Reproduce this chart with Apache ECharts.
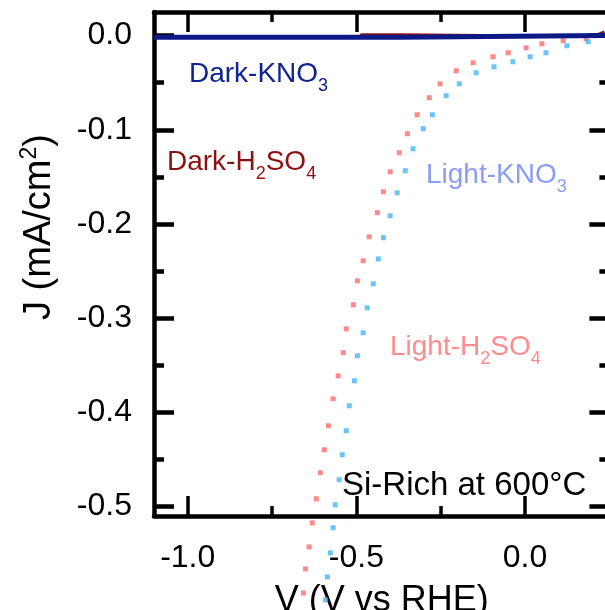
<!DOCTYPE html>
<html>
<head>
<meta charset="utf-8">
<script src="https://cdn.jsdelivr.net/npm/echarts@6/dist/echarts.min.js"></script>
<style>
  html, body { margin: 0; padding: 0; background: #ffffff; }
  #chart { width: 605px; height: 610px; }
</style>
</head>
<body>
<div id="chart"></div>
<script>
// Current density J (mA/cm²) against potential V (V vs RHE), Si-rich film annealed at 600 °C

// Illuminated sweep in H2SO4
const lightH2SO4V = [0.181, 0.113, 0.050, 0.003, -0.050, -0.095, -0.154, -0.204, -0.252, -0.284,
  -0.320, -0.349, -0.373, -0.400, -0.420, -0.438, -0.462, -0.480, -0.497, -0.509,
  -0.530, -0.539, -0.554, -0.569, -0.583, -0.595, -0.607, -0.619, -0.631, -0.640, -0.651, -0.657];
const lightH2SO4J = [-0.0034, -0.0055, -0.0087, -0.0130, -0.0183, -0.0225, -0.0289, -0.0374, -0.0512, -0.0660,
  -0.0841, -0.1042, -0.1244, -0.1446, -0.1658, -0.1881, -0.2136, -0.2391, -0.2603, -0.2858,
  -0.3113, -0.3367, -0.3612, -0.3856, -0.4142, -0.4397, -0.4641, -0.4918, -0.5173, -0.5428, -0.5662, -0.5917];

// Illuminated sweep in KNO3
const lightKNO3V = [0.187, 0.124, 0.062, 0.015, -0.036, -0.092, -0.145, -0.195, -0.234, -0.275,
  -0.302, -0.332, -0.355, -0.379, -0.400, -0.420, -0.435, -0.450, -0.468, -0.480,
  -0.497, -0.506, -0.521, -0.530, -0.542, -0.551, -0.563, -0.569, -0.577, -0.586, -0.592];
const lightKNO3J = [-0.0066, -0.0108, -0.0183, -0.0225, -0.0278, -0.0332, -0.0395, -0.0512, -0.0639, -0.0841,
  -0.0989, -0.1202, -0.1435, -0.1669, -0.1913, -0.2146, -0.2371, -0.2635, -0.2890, -0.3155,
  -0.3399, -0.3665, -0.3930, -0.4195, -0.4450, -0.4715, -0.4981, -0.5225, -0.5491, -0.5746, -0.5990];

// Dark sweeps (flat, near zero)
const darkKNO3V = [-1.1, -0.37, -0.365, 0.25];
const darkKNO3J = [-0.0018, -0.0018, 0.0, 0.0];
const darkH2SO4V = [-1.1, -0.49, -0.485, -0.37, -0.365, 0.2, 0.235];
const darkH2SO4J = [-0.0015, -0.0015, 0.0012, 0.0012, -0.0008, -0.0008, 0.004];

// Axis ranges and tick values
const xRange = [-1.1, 0.25];
const yRange = [-0.51, 0.025];
const xMajorTicks = [-1.0, -0.5, 0.0];
const xMinorTicks = [-0.75, -0.25];
const yMajorTicks = [0.0, -0.1, -0.2, -0.3, -0.4, -0.5];
const yMinorTicks = [-0.05, -0.15, -0.25, -0.35, -0.45];

const FONT = "'Liberation Sans', Arial, Helvetica, sans-serif";
const pairs = (xs, ys) => xs.map((x, i) => [x, ys[i]]);
const fmt = v => Number(v).toFixed(1);

const gridRect = { left: 154, top: 12, width: 455.4, height: 504, outerBoundsMode: 'none' };
const axisLineStyle = { show: true, onZero: false, lineStyle: { color: '#000', width: 4.5 } };
const noLine = { show: false, onZero: false };

function xAxisDef(gridIndex, position, ticks, len, showLine, withLabels) {
  return {
    type: 'value', gridIndex, position, min: xRange[0], max: xRange[1],
    axisLine: showLine ? axisLineStyle : noLine,
    axisTick: { show: true, inside: true, length: len, customValues: ticks,
      lineStyle: { color: '#000', width: 3.5 } },
    axisLabel: withLabels
      ? { show: true, customValues: ticks, formatter: fmt, fontSize: 32, fontFamily: FONT,
          color: '#000', margin: 26 }
      : { show: false },
    splitLine: { show: false }
  };
}
function yAxisDef(gridIndex, position, ticks, len, showLine, withLabels) {
  return {
    type: 'value', gridIndex, position, min: yRange[0], max: yRange[1],
    axisLine: showLine ? axisLineStyle : noLine,
    axisTick: { show: true, inside: true, length: len, customValues: ticks,
      lineStyle: { color: '#000', width: 4.5 } },
    axisLabel: withLabels
      ? { show: true, customValues: ticks, formatter: fmt, fontSize: 32, fontFamily: FONT,
          color: '#000', margin: 22 }
      : { show: false },
    splitLine: { show: false }
  };
}

// Text with subscripts: parts alternate between normal ('m') and lowered small ('s') runs
function subLabel(parts, color, size, left, top) {
  const subSize = Math.round(size * 0.63);
  const text = parts.map(p => '{' + p[0] + '|' + p[1] + '}').join('');
  return {
    type: 'text', left, top, silent: true,
    style: {
      text,
      rich: {
        m: { fontSize: size, fontFamily: FONT, fill: color, lineHeight: size, verticalAlign: 'top' },
        s: { fontSize: subSize, fontFamily: FONT, fill: color, lineHeight: size + 7, verticalAlign: 'bottom' }
      }
    }
  };
}

const chart = echarts.init(document.getElementById('chart'), null, { renderer: 'canvas' });

const xAxes = [
  xAxisDef(0, 'bottom', xMajorTicks, 20, true, true),
  xAxisDef(1, 'top', xMajorTicks, 20, true, false),
  xAxisDef(2, 'bottom', xMinorTicks, 10, false, false),
  xAxisDef(3, 'top', xMinorTicks, 10, false, false)
];
xAxes[0].name = 'V (V vs RHE)';
xAxes[0].nameLocation = 'middle';
xAxes[0].nameGap = 67;
xAxes[0].nameTextStyle = { fontSize: 36, fontFamily: FONT, color: '#000' };

const yAxes = [
  yAxisDef(0, 'left', yMajorTicks, 20, true, true),
  yAxisDef(1, 'right', yMajorTicks, 20, true, false),
  yAxisDef(2, 'left', yMinorTicks, 10, false, false),
  yAxisDef(3, 'right', yMinorTicks, 10, false, false)
];
yAxes[0].name = 'J (mA/cm{sup|2})';
yAxes[0].nameLocation = 'middle';
yAxes[0].nameRotate = 90;
yAxes[0].nameGap = 93;
yAxes[0].nameTextStyle = {
  fontSize: 38, fontFamily: FONT, color: '#000', lineHeight: 43,
  padding: [0, 0, 0, 74],
  rich: { sup: { fontSize: 23, fontFamily: FONT, color: '#000', lineHeight: 20, verticalAlign: 'top' } }
};

chart.setOption({
  animation: false,
  backgroundColor: '#ffffff',
  grid: [0, 1, 2, 3].map(() => Object.assign({ containLabel: false }, gridRect)),
  xAxis: xAxes,
  yAxis: yAxes,
  series: [
    {
      name: 'Light-H2SO4', type: 'scatter', xAxisIndex: 0, yAxisIndex: 0,
      data: pairs(lightH2SO4V, lightH2SO4J), symbol: 'rect', symbolSize: 5,
      itemStyle: { color: '#ff6a6a' }, clip: false, silent: true, z: 2
    },
    {
      name: 'Light-KNO3', type: 'scatter', xAxisIndex: 0, yAxisIndex: 0,
      data: pairs(lightKNO3V, lightKNO3J), symbol: 'rect', symbolSize: 5,
      itemStyle: { color: '#45b4f8' }, clip: false, silent: true, z: 2
    },
    {
      name: 'Dark-H2SO4', type: 'line', xAxisIndex: 0, yAxisIndex: 0,
      data: pairs(darkH2SO4V, darkH2SO4J), showSymbol: false,
      lineStyle: { color: '#8e1414', width: 2.5 }, silent: true, z: 3
    },
    {
      name: 'Dark-KNO3', type: 'line', xAxisIndex: 0, yAxisIndex: 0,
      data: pairs(darkKNO3V, darkKNO3J), showSymbol: false,
      lineStyle: { color: '#0c1a88', width: 5 }, silent: true, z: 4
    }
  ],
  graphic: [
    subLabel([['m', 'Dark-KNO'], ['s', '3']], '#10238f', 28, 189, 60),
    subLabel([['m', 'Dark-H'], ['s', '2'], ['m', 'SO'], ['s', '4']], '#8c1010', 28, 167, 148),
    subLabel([['m', 'Light-KNO'], ['s', '3']], '#8a9cf6', 28, 426, 161),
    subLabel([['m', 'Light-H'], ['s', '2'], ['m', 'SO'], ['s', '4']], '#ff8c8c', 28, 390, 333),
    {
      type: 'text', left: 342, top: 469, silent: true,
      style: { text: 'Si-Rich at 600°C', fontSize: 33, fontFamily: FONT, fill: '#000' }
    }
  ]
});
</script>
</body>
</html>
